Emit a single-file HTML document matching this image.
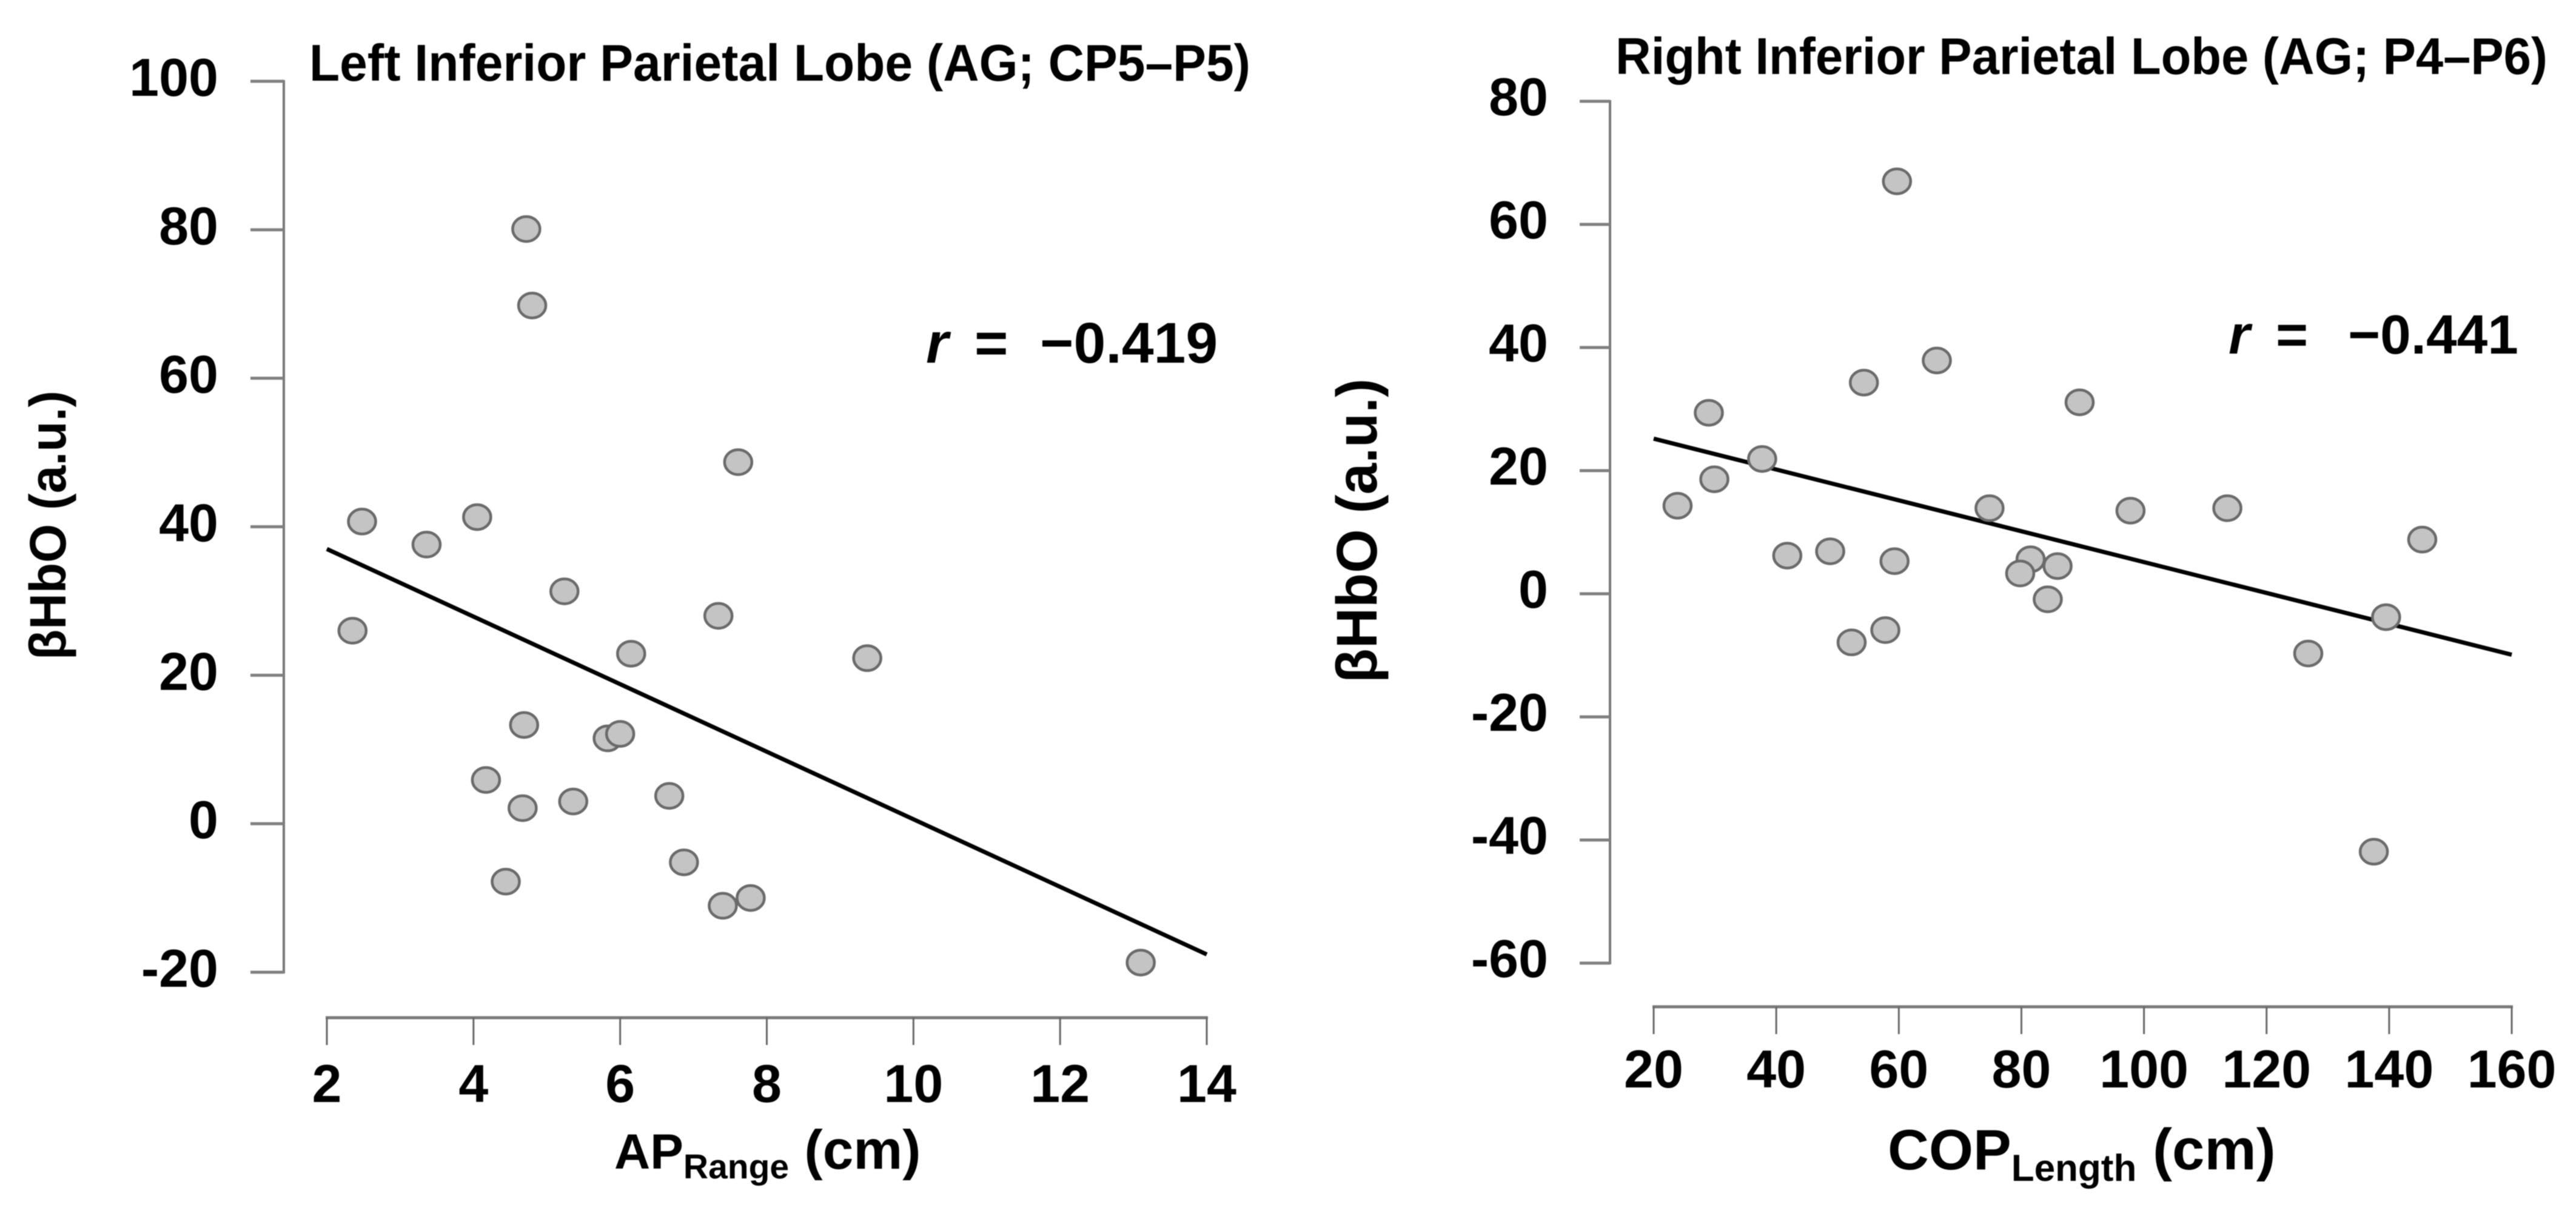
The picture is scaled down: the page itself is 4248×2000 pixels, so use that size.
<!DOCTYPE html>
<html lang="en">
<head>
<meta charset="utf-8">
<title>Inferior Parietal Lobe correlations</title>
<style>
  html, body { margin: 0; padding: 0; background: #fff; }
  svg { display: block; filter: blur(0.8px); }
  text { font-family: "Liberation Sans", Arial, sans-serif; font-weight: bold; fill: #000; }
</style>
</head>
<body>
<svg id="figure" xmlns="http://www.w3.org/2000/svg" width="4248" height="2000" viewBox="0 0 4248 2000">
  <rect x="0" y="0" width="4248" height="2000" fill="#ffffff"/>
  <g id="left-chart">
    <text x="510" y="133" font-size="85" textLength="1552" lengthAdjust="spacingAndGlyphs">Left Inferior Parietal Lobe (AG; CP5–P5)</text>
    <text transform="translate(108,1088) rotate(-90)" font-size="84" textLength="444" lengthAdjust="spacingAndGlyphs">βHbO (a.u.)</text>
    <text x="1013" y="1927" font-size="82">AP<tspan font-size="57" dy="16">Range</tspan><tspan font-size="91" dy="-16"> (cm)</tspan></text>
    <text y="598" font-size="95"><tspan font-style="italic" x="1527">r</tspan><tspan x="1607">=</tspan><tspan x="1715">−0.419</tspan></text>
  </g>
  <g id="right-chart">
    <text x="2664" y="122" font-size="85" textLength="1537" lengthAdjust="spacingAndGlyphs">Right Inferior Parietal Lobe (AG; P4–P6)</text>
    <text transform="translate(2270,1126) rotate(-90)" font-size="95" textLength="502" lengthAdjust="spacingAndGlyphs">βHbO (a.u.)</text>
    <text x="3113" y="1928" font-size="94">COP<tspan font-size="62" dy="19">Length</tspan><tspan font-size="96" dy="-19"> (cm)</tspan></text>
    <text y="583" font-size="91"><tspan font-style="italic" x="3675">r</tspan><tspan x="3753">=</tspan><tspan x="3872">−0.441</tspan></text>
  </g>
</svg>
<script>
const leftX = [4.72,4.80,7.61,2.48,4.05,3.36,5.24,7.34,2.35,6.15,9.37,4.69,5.83,6.00,4.17,4.67,5.36,6.67,6.87,4.44,7.40,7.78,13.10];
const leftY = [80.1,69.8,48.7,40.7,41.3,37.6,31.3,28.0,26.0,22.9,22.3,13.3,11.5,12.1,5.9,2.1,3.0,3.75,-5.2,-7.8,-11.05,-10.0,-18.7];
const leftFitX = [2, 14];
const leftFitY = [37.0, -17.6];
const leftXTicks = [2,4,6,8,10,12,14];
const leftYTicks = [100,80,60,40,20,0,-20];

const rightX = [59.7,66.2,54.3,89.5,29.0,37.7,29.9,23.9,74.8,97.8,113.6,145.4,41.8,48.8,59.3,81.5,79.8,85.9,84.3,52.3,57.8,139.5,126.8,137.5];
const rightY = [67.0,37.9,34.3,31.1,29.4,21.9,18.6,14.3,13.9,13.5,13.9,8.8,6.2,6.9,5.3,5.6,3.3,4.5,-0.9,-7.9,-5.9,-3.8,-9.7,-41.9];
const rightFitX = [20, 160];
const rightFitY = [25.2, -9.9];
const rightXTicks = [20,40,60,80,100,120,140,160];
const rightYTicks = [80,60,40,20,0,-20,-40,-60];

const SVG_NS = 'http://www.w3.org/2000/svg';

function linearScale(d0, d1, r0, r1) {
  return function (v) { return r0 + (v - d0) * (r1 - r0) / (d1 - d0); };
}

function make(tag, attrs, parent) {
  const el = document.createElementNS(SVG_NS, tag);
  for (const k in attrs) el.setAttribute(k, attrs[k]);
  parent.appendChild(el);
  return el;
}

function drawChart(parent, cfg, xs, ys, fitX, fitY, xTicks, yTicks) {
  const sx = linearScale(xTicks[0], xTicks[xTicks.length - 1], cfg.xStart, cfg.xEnd);
  const sy = linearScale(yTicks[0], yTicks[yTicks.length - 1], cfg.yTop, cfg.yBottom);

  const yAxis = make('line', { x1: cfg.yAxisX, x2: cfg.yAxisX, y1: cfg.yTop - 2, y2: cfg.yBottom + 2, stroke: '#777777', 'stroke-width': 4 }, parent);
  
  

  yTicks.forEach(function (t) {
    const tick = make('line', { x1: cfg.yTickX, x2: cfg.yAxisX, y1: sy(t), y2: sy(t), stroke: '#808080', 'stroke-width': 5 }, parent);
    
    
    const label = make('text', { x: cfg.yLabelX, y: sy(t) + cfg.yLabelDy, 'font-size': cfg.tickFont, 'text-anchor': 'end' }, parent);
    label.textContent = String(t);
    
    
  });

  const xAxis = make('line', { x1: cfg.xStart - 2, x2: cfg.xEnd + 2, y1: cfg.xAxisY, y2: cfg.xAxisY, stroke: '#7a7a7a', 'stroke-width': 5 }, parent);
  
  

  xTicks.forEach(function (t) {
    const tick = make('line', { x1: sx(t), x2: sx(t), y1: cfg.xAxisY, y2: cfg.xTickY, stroke: '#666666', 'stroke-width': 3 }, parent);
    
    
    const label = make('text', { x: sx(t), y: cfg.xLabelY, 'font-size': cfg.tickFont, 'text-anchor': 'middle' }, parent);
    label.textContent = String(t);
    
    
  });

  const fit = make('line', { x1: sx(fitX[0]), y1: sy(fitY[0]), x2: sx(fitX[1]), y2: sy(fitY[1]), stroke: '#000000', 'stroke-width': 7 }, parent);
  
  

  xs.forEach(function (x, i) {
    const pt = make('ellipse', { cx: sx(x), cy: sy(ys[i]), rx: 22.5, ry: 20.5, fill: '#c4c4c4', stroke: '#6a6a6a', 'stroke-width': 4.5 }, parent);
    
    
  });
}

drawChart(document.getElementById('left-chart'), {
  xStart: 539, xEnd: 1990, yTop: 134, yBottom: 1603,
  yAxisX: 468, yTickX: 413, yLabelX: 360, yLabelDy: 24,
  xAxisY: 1678, xTickY: 1723, xLabelY: 1817, tickFont: 88
}, leftX, leftY, leftFitX, leftFitY, leftXTicks, leftYTicks);

drawChart(document.getElementById('right-chart'), {
  xStart: 2727, xEnd: 4142, yTop: 167, yBottom: 1588,
  yAxisX: 2655, yTickX: 2605, yLabelX: 2553, yLabelDy: 23,
  xAxisY: 1660, xTickY: 1705, xLabelY: 1793, tickFont: 88
}, rightX, rightY, rightFitX, rightFitY, rightXTicks, rightYTicks);
</script>
</body>
</html>
